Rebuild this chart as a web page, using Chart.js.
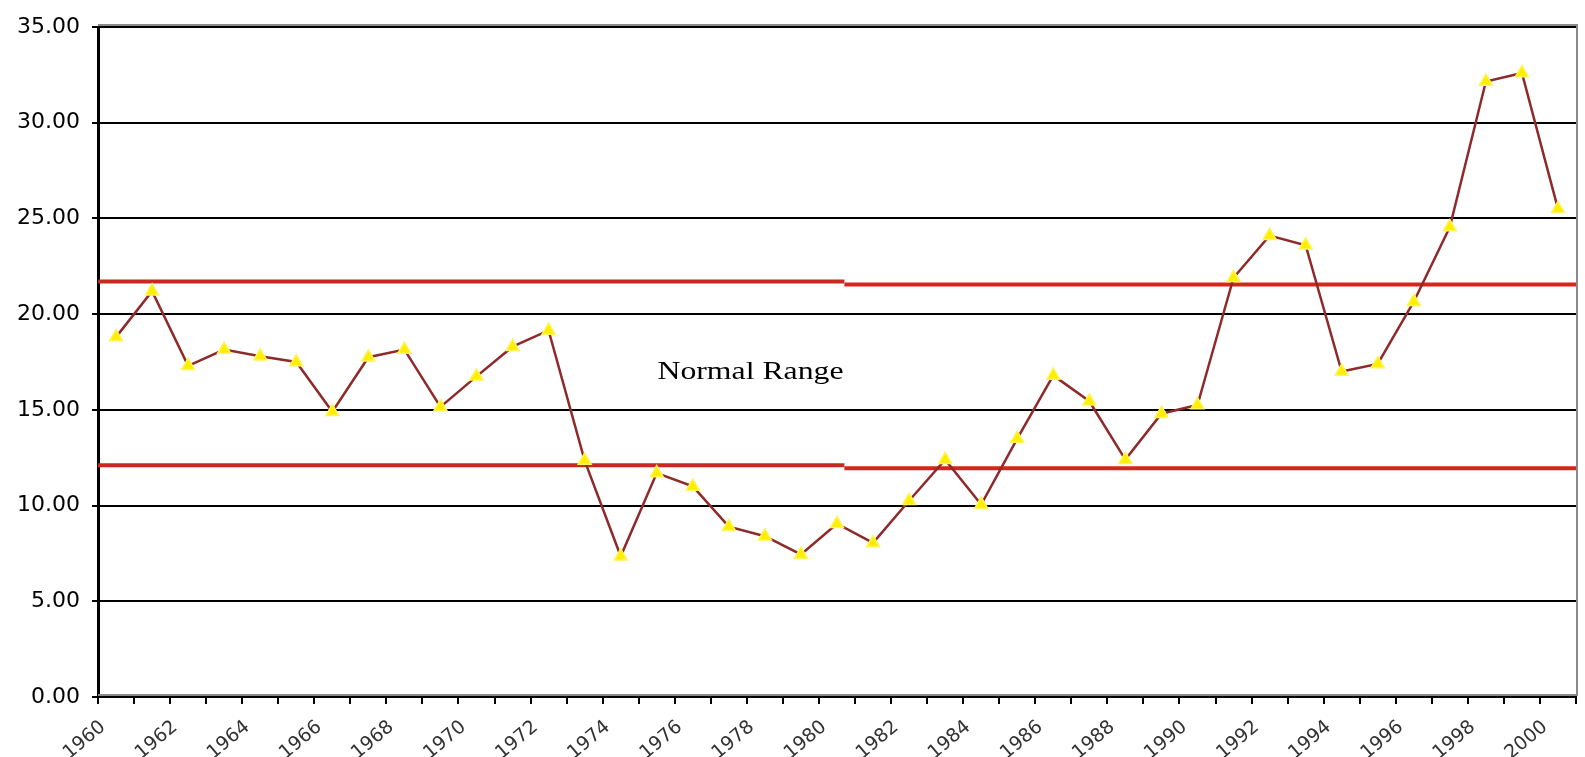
<!DOCTYPE html>
<html>
<head>
<meta charset="utf-8">
<script src="https://cdn.jsdelivr.net/npm/chart.js@4/dist/chart.umd.min.js"></script>
<style>
  html, body { margin: 0; padding: 0; background: #ffffff; }
  #wrap { position: relative; width: 1585px; height: 757px; }
</style>
</head>
<body>
<div id="wrap"><canvas id="chartRange"></canvas></div>
<script>
// Yıllar (kategori ekseni)
const years = [];
for (let y = 1960; y <= 2000; y++) years.push(String(y));

// Seri değerleri
const seriesValues = [
    18.8, 21.2, 17.3, 18.15, 17.8, 17.5, 14.9, 17.75, 18.15, 15.15,
    16.75, 18.3, 19.15, 12.35, 7.35, 11.7, 11.0, 8.9, 8.4, 7.45,
    9.05, 8.05, 10.25, 12.4, 10.05, 13.5, 16.8, 15.45, 12.4, 14.8,
    15.25, 21.9, 24.1, 23.6, 17.0, 17.4, 20.65, 24.55, 32.15, 32.6,
    25.5
];

// Normal aralık sınırları (sol yarı, sağ yarı)
const rangeUpper = [21.7, 21.55];
const rangeLower = [12.1, 11.95];
const rangeSplit = 0.505;

// Y ekseni tik değerleri
const yTicks = [0, 5, 10, 15, 20, 25, 30, 35];

// Etiket
const rangeLabel = 'Normal Range';
const rangeLabelAt = { index: 17.6, value: 16.95 };

function segment(vals, part) {
    return part === 0
        ? [{ x: 0, y: vals[0] }, { x: rangeSplit, y: vals[0] }]
        : [{ x: rangeSplit, y: vals[1] }, { x: 1, y: vals[1] }];
}

// Çizim alanı çerçevesi ve etiket
const framePlugin = {
    id: 'frame',
    afterDraw(chart) {
        const { ctx, chartArea: a, scales } = chart;
        ctx.save();
        ctx.strokeStyle = '#8a8a8a';
        ctx.lineWidth = 2;
        ctx.beginPath();
        ctx.moveTo(a.left, a.top - 2);
        ctx.lineTo(a.right + 1, a.top - 2);
        ctx.lineTo(a.right + 1, a.bottom - 2);
        ctx.lineTo(a.left, a.bottom - 2);
        ctx.stroke();

        const x = scales.x.getPixelForValue(rangeLabelAt.index);
        const y = scales.y.getPixelForValue(rangeLabelAt.value);
        ctx.translate(x, y);
        ctx.scale(1.27, 1);
        ctx.fillStyle = '#000000';
        ctx.font = '25px "Liberation Serif"';
        ctx.textAlign = 'center';
        ctx.textBaseline = 'middle';
        ctx.fillText(rangeLabel, 0, 0);
        ctx.restore();
    }
};

const lineColor = '#8e2a2a';
const rangeLeftColor = '#c42a20';
const rangeRightColor = '#d4261a';

new Chart(document.getElementById('chartRange'), {
    type: 'line',
    data: {
        labels: years,
        datasets: [
            {
                label: 'Value',
                data: seriesValues,
                borderColor: lineColor,
                borderWidth: 2.5,
                pointStyle: 'triangle',
                pointRadius: 7.5,
                pointBackgroundColor: '#ffee00',
                pointBorderColor: '#fff45a',
                pointBorderWidth: 1.5,
                tension: 0,
                order: 0
            },
            { data: segment(rangeUpper, 0), xAxisID: 'xr', borderColor: rangeLeftColor, borderWidth: 4, pointRadius: 0, order: 1 },
            { data: segment(rangeUpper, 1), xAxisID: 'xr', borderColor: rangeRightColor, borderWidth: 4, pointRadius: 0, order: 1 },
            { data: segment(rangeLower, 0), xAxisID: 'xr', borderColor: rangeLeftColor, borderWidth: 4, pointRadius: 0, order: 1 },
            { data: segment(rangeLower, 1), xAxisID: 'xr', borderColor: rangeRightColor, borderWidth: 4, pointRadius: 0, order: 1 }
        ]
    },
    options: {
        responsive: true,
        maintainAspectRatio: false,
        animation: false,
        layout: { padding: { top: 27, right: 1, left: 0, bottom: 0 } },
        plugins: {
            legend: { display: false },
            tooltip: { enabled: false }
        },
        scales: {
            x: {
                type: 'category',
                offset: true,
                border: { display: true, color: '#000000', width: 2 },
                grid: {
                    offset: true,
                    drawOnChartArea: false,
                    drawTicks: true,
                    tickLength: 7,
                    color: '#000000',
                    lineWidth: 2
                },
                ticks: {
                    autoSkip: false,
                    maxRotation: 40,
                    minRotation: 40,
                    labelOffset: -13,
                    padding: 12,
                    color: '#333333',
                    font: { family: 'DejaVu Sans', size: 19 },
                    callback: function (val) {
                        const lab = this.getLabelForValue(val);
                        return (Number(lab) % 2 === 0) ? lab : '';
                    }
                },
                afterFit: s => {
                    s.height = 60;
                    s.paddingLeft = 0;
                    s.paddingRight = 0;
                }
            },
            xr: {
                type: 'linear',
                min: 0,
                max: 1,
                display: false
            },
            y: {
                min: 0,
                max: 35,
                afterBuildTicks: s => { s.ticks = yTicks.map(v => ({ value: v })); },
                border: { display: true, color: '#000000', width: 3 },
                grid: {
                    color: '#000000',
                    lineWidth: 2,
                    drawTicks: true,
                    tickLength: 6
                },
                ticks: {
                    color: '#000000',
                    padding: 12,
                    font: { family: 'DejaVu Sans', size: 22 },
                    callback: v => Number(v).toFixed(2)
                },
                afterFit: s => { s.width = 98; }
            }
        }
    },
    plugins: [framePlugin]
});
</script>
</body>
</html>
